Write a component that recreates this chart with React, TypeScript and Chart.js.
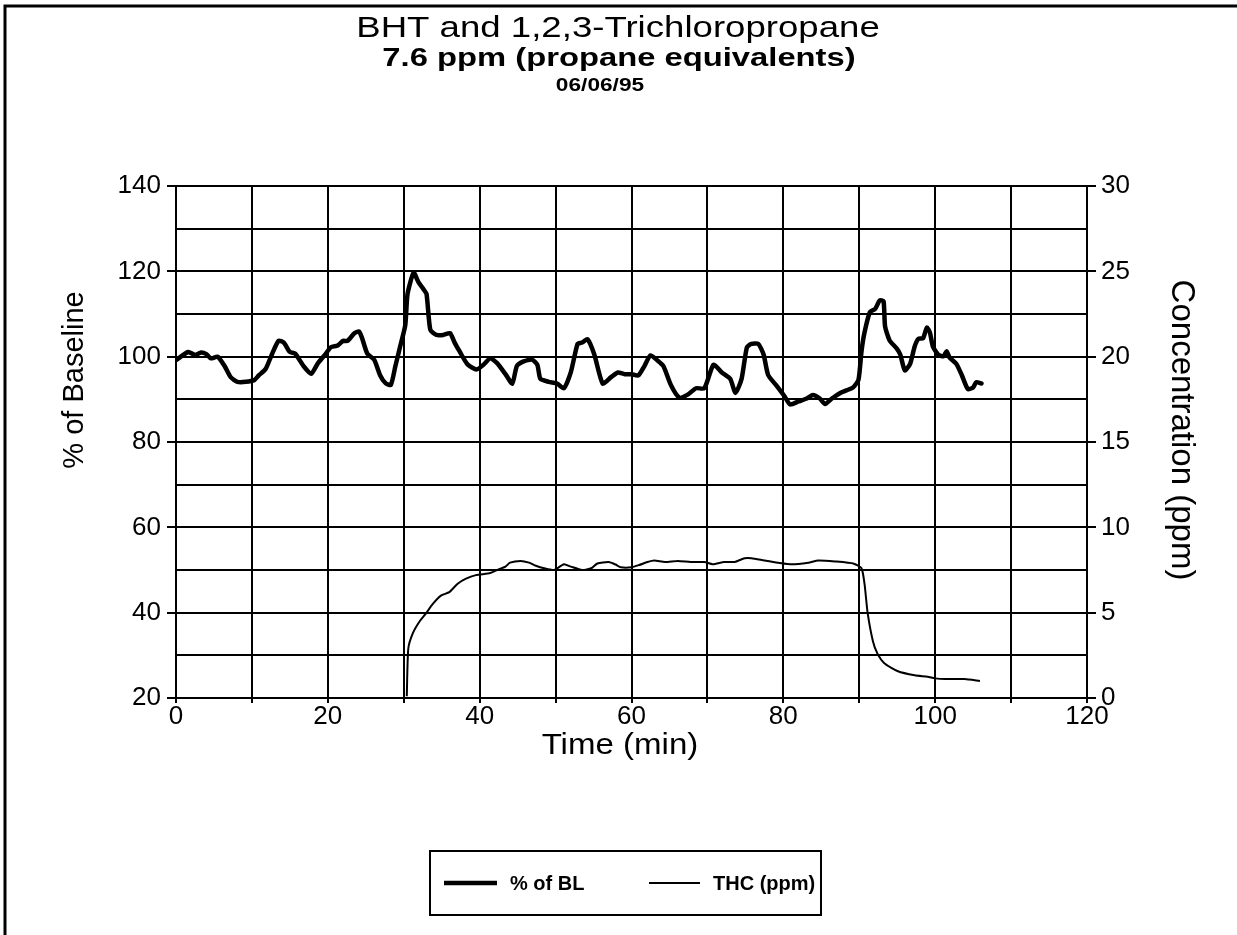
import React, { useEffect, useRef } from 'react';
import { Chart, registerables } from 'chart.js';

Chart.register(...registerables);

const W = 1237;
const H = 935;

const titleMain = 'BHT and 1,2,3-Trichloropropane';
const titleSub = '7.6 ppm (propane equivalents)';
const titleDate = '06/06/95';
const xTitle = 'Time (min)';
const yTitle = '% of Baseline';
const y1Title = 'Concentration (ppm)';
const legendLabels = ['% of BL', 'THC (ppm)'];

// % of baseline series (time in min, value in %)
const blTime = [
  0.1, 1.6, 2.5, 3.3, 4.0, 4.6, 5.5, 6.4, 7.2, 8.1, 9.2, 10.3, 10.9, 11.8, 12.6, 13.5, 14.2, 15.0, 15.7, 16.8,
  17.8, 18.7, 19.6, 20.4, 21.3, 22.0, 22.6, 23.5, 24.1, 24.5, 25.2, 26.1, 26.9, 27.6, 28.3, 28.9, 29.5, 30.2, 30.5, 31.3,
  31.9, 32.6, 33.0, 33.5, 34.3, 35.2, 36.1, 36.7, 37.4, 38.4, 39.6, 40.5, 41.4, 42.3, 43.4, 44.3, 44.9, 45.8, 46.9, 47.6,
  48.0, 49.1, 50.2, 51.1, 52.0, 52.9, 53.5, 54.2, 55.1, 56.2, 57.3, 58.2, 59.1, 60.0, 60.9, 61.7, 62.5, 63.5, 64.2, 65.2,
  66.3, 67.4, 68.5, 69.6, 70.8, 71.9, 73.0, 73.7, 74.5, 75.2, 75.8, 76.7, 77.4, 78.0, 79.1, 80.2, 80.9, 82.0, 83.1, 83.9,
  84.8, 85.5, 86.4, 87.5, 88.3, 89.2, 89.9, 90.3, 90.7, 91.4, 92.1, 92.7, 93.2, 93.4, 94.0, 94.9, 95.4, 96.0, 96.7, 97.3,
  97.8, 98.4, 98.9, 99.3, 99.7, 100.4, 101.1, 101.5, 101.9, 102.8, 103.5, 104.3, 105.0, 105.4, 106.1,
];
const blValue = [
  99.3, 101.1, 100.4, 101, 100.6, 99.6, 100, 97.8, 95.2, 94.1, 94.1, 94.5, 95.6, 97.1, 100.4, 103.7, 103.3, 101.1, 100.7, 97.8,
  96, 98.5, 100.4, 102.2, 102.6, 103.7, 103.7, 105.5, 105.9, 104.4, 100.7, 99.3, 95.6, 93.8, 93.4, 97.8, 102.2, 107.4, 114.7, 119.7,
  117.6, 115.8, 114.7, 106.3, 105.1, 105.1, 105.5, 103.3, 101.1, 98.2, 97.0, 98.1, 99.6, 98.5, 95.9, 93.7, 97.8, 98.9, 99.3, 98.1,
  94.8, 94.1, 93.7, 92.6, 96.3, 103, 103.3, 104.1, 100.5, 93.7, 95.2, 96.3, 95.9, 95.9, 95.6, 97.8, 100.3, 99.0, 97.8, 93.3,
  90.4, 91.1, 92.6, 92.6, 98.1, 96.3, 94.8, 91.5, 94.8, 102.2, 103, 103, 100.5, 95.7, 93.2, 90.6, 88.8, 89.5, 90.2, 91,
  90.2, 88.9, 90.2, 91.5, 92.1, 92.8, 94.6, 101.3, 105.7, 110.4, 111.2, 113.2, 113, 107.1, 103.8, 102, 100.5, 96.8, 98.3, 102.4,
  104.2, 104.3, 106.8, 105.7, 102.4, 100.5, 100.1, 101.3, 99.8, 98.3, 95.7, 92.4, 92.8, 94, 93.7,
];

// THC series (time in min, concentration in ppm)
const thcTime = [
  30.4, 30.6, 31.2, 32.1, 33.0, 33.8, 34.9, 36.0, 37.1, 38.2, 39.5, 41.4, 42.3, 43.4, 44.0, 45.4, 46.5, 47.4, 48.5, 49.8,
  51.1, 52.0, 53.5, 54.7, 55.5, 57.0, 57.9, 58.6, 60.0, 61.0, 62.1, 63.0, 64.4, 66.1, 67.8, 69.6, 70.7, 72.2, 73.6, 74.9,
  75.8, 77.5, 79.3, 81.1, 83.3, 84.6, 86.8, 89.3, 90.3, 90.7, 91.1, 91.8, 92.4, 93.3, 95.1, 97.3, 99.0, 100.0, 101.3, 103.9,
  105.9,
];
const thcValue = [
  0.1, 2.9, 3.8, 4.5, 5.0, 5.5, 6.0, 6.2, 6.7, 7.0, 7.2, 7.32, 7.5, 7.7, 7.93, 8.03, 7.93, 7.75, 7.6, 7.5,
  7.84, 7.7, 7.5, 7.6, 7.88, 7.97, 7.82, 7.66, 7.66, 7.79, 7.97, 8.06, 7.97, 8.03, 7.97, 7.97, 7.84, 7.97, 7.97, 8.19,
  8.19, 8.06, 7.93, 7.83, 7.93, 8.06, 8.0, 7.87, 7.6, 6.67, 5.0, 3.33, 2.6, 2.04, 1.57, 1.33, 1.24, 1.15, 1.11, 1.11,
  1.0,
];

const FONT = '"Liberation Sans", Arial, Helvetica, sans-serif';

const PLOT_LEFT = 176;
const PLOT_RIGHT = 1087;
const PLOT_TOP = 186;
const PLOT_BOTTOM = 698;
const X_AXIS_H = 70;

function stretchedText(ctx: CanvasRenderingContext2D, text: string, x: number, y: number, sx: number) {
  ctx.save();
  ctx.translate(x, y);
  ctx.scale(sx, 1);
  ctx.fillText(text, 0, 0);
  ctx.restore();
}

const decorPlugin = {
  id: 'decor',
  afterDraw(chart: any) {
    const ctx = chart.ctx as CanvasRenderingContext2D;
    ctx.save();
    // outer frame (left and top edges)
    ctx.strokeStyle = '#000';
    ctx.lineWidth = 3;
    ctx.beginPath();
    ctx.moveTo(5, H);
    ctx.lineTo(5, 6);
    ctx.lineTo(W, 6);
    ctx.stroke();

    ctx.fillStyle = '#000';
    ctx.textAlign = 'center';
    ctx.textBaseline = 'middle';
    ctx.font = `normal 30px ${FONT}`;
    stretchedText(ctx, titleMain, 618, 29, 1.22);
    ctx.font = `bold 26px ${FONT}`;
    stretchedText(ctx, titleSub, 619, 59, 1.26);
    ctx.font = `bold 18px ${FONT}`;
    stretchedText(ctx, titleDate, 600, 86, 1.26);

    // axis titles
    ctx.font = `normal 29px ${FONT}`;
    stretchedText(ctx, xTitle, 620, 746, 1.14);
    ctx.save();
    ctx.translate(75, 380);
    ctx.rotate(-Math.PI / 2);
    ctx.fillText(yTitle, 0, 0);
    ctx.restore();
    ctx.font = `normal 33px ${FONT}`;
    ctx.save();
    ctx.translate(1181, 430);
    ctx.rotate(Math.PI / 2);
    ctx.fillText(y1Title, 0, 0);
    ctx.restore();

    // legend box
    const lx = 430, ly = 851, lw = 391, lh = 64;
    ctx.lineWidth = 2;
    ctx.strokeRect(lx, ly, lw, lh);
    const cy = ly + lh / 2;
    ctx.lineCap = 'butt';
    ctx.lineWidth = 4.5;
    ctx.beginPath();
    ctx.moveTo(444, cy);
    ctx.lineTo(497, cy);
    ctx.stroke();
    ctx.lineWidth = 2;
    ctx.beginPath();
    ctx.moveTo(649, cy);
    ctx.lineTo(700, cy);
    ctx.stroke();
    ctx.font = `bold 20px ${FONT}`;
    ctx.textAlign = 'left';
    ctx.fillText(legendLabels[0], 510, cy + 1);
    ctx.fillText(legendLabels[1], 713, cy + 1);
    ctx.restore();
  },
};

export default function App() {
  const ref = useRef<HTMLCanvasElement | null>(null);

  useEffect(() => {
    document.body.style.margin = '0';
    const canvas = ref.current;
    if (!canvas) return;
    const blData = blTime.map((t, i) => ({ x: t, y: blValue[i] }));
    const thcData = thcTime.map((t, i) => ({ x: t, y: thcValue[i] }));
    const tickFont = { family: FONT, size: 26 };
    const chart = new Chart(canvas, {
      type: 'line',
      data: {
        datasets: [
          {
            label: legendLabels[0],
            data: blData,
            yAxisID: 'y',
            borderColor: '#000',
            borderWidth: 4.5,
            pointRadius: 0,
            tension: 0.2,
            borderJoinStyle: 'round',
            borderCapStyle: 'round',
          },
          {
            label: legendLabels[1],
            data: thcData,
            yAxisID: 'y1',
            borderColor: '#000',
            borderWidth: 2,
            pointRadius: 0,
            tension: 0.2,
            borderJoinStyle: 'round',
          },
        ],
      },
      options: {
        responsive: false,
        animation: false,
        events: [],
        layout: { padding: { top: PLOT_TOP, bottom: H - PLOT_BOTTOM - X_AXIS_H, left: 0, right: 0 } },
        plugins: {
          legend: { display: false },
          title: { display: false },
          tooltip: { enabled: false },
        },
        scales: {
          x: {
            type: 'linear',
            min: 0,
            max: 120,
            ticks: {
              stepSize: 10,
              autoSkip: false,
              maxRotation: 0,
              padding: -2,
              color: '#000',
              font: tickFont,
              callback: (v: any) => (Number(v) % 20 === 0 ? String(v) : ''),
            },
            grid: { color: '#000', lineWidth: 2, tickLength: 5, tickColor: '#000' },
            border: { color: '#000', width: 2 },
            afterFit: (s: any) => {
              s.height = X_AXIS_H;
            },
          },
          y: {
            position: 'left',
            min: 20,
            max: 140,
            ticks: {
              stepSize: 10,
              padding: 6,
              color: '#000',
              font: tickFont,
              callback: (v: any) => (Number(v) % 20 === 0 ? String(v) : ''),
            },
            grid: {
              color: '#000',
              lineWidth: 2,
              tickLength: 9,
              tickColor: (c: any) => (c.tick && c.tick.value % 20 === 0 ? '#000' : 'rgba(0,0,0,0)'),
            },
            border: { color: '#000', width: 2 },
            afterFit: (s: any) => {
              s.width = PLOT_LEFT;
            },
          },
          y1: {
            position: 'right',
            min: 0,
            max: 30,
            ticks: {
              stepSize: 2.5,
              padding: 5,
              color: '#000',
              font: tickFont,
              callback: (v: any) => (Math.abs(Number(v) % 5) < 1e-9 ? String(v) : ''),
            },
            grid: {
              drawOnChartArea: false,
              color: '#000',
              lineWidth: 2,
              tickLength: 9,
              tickColor: (c: any) => (c.tick && Math.abs(c.tick.value % 5) < 1e-9 ? '#000' : 'rgba(0,0,0,0)'),
            },
            border: { color: '#000', width: 2 },
            afterFit: (s: any) => {
              s.width = W - PLOT_RIGHT;
            },
          },
        },
      },
      plugins: [decorPlugin],
    });
    return () => chart.destroy();
  }, []);

  return (
    <div style={{ width: W, height: H, background: '#fff' }}>
      <canvas ref={ref} width={W} height={H} style={{ display: 'block' }} />
    </div>
  );
}
